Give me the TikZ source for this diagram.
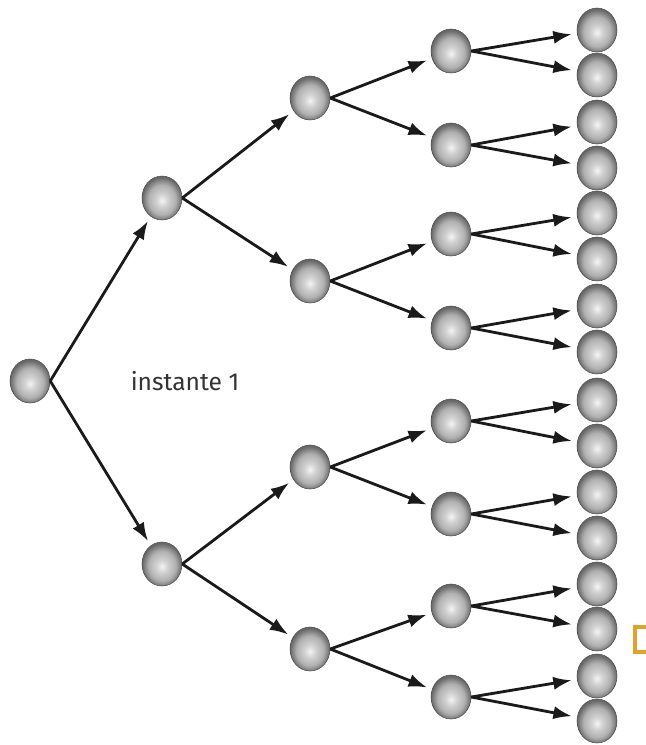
\documentclass[tikz,border=0pt]{standalone}
\usepackage{fontspec}
\newfontfamily\labelfont{Fira Sans}
\usepackage{tikz}
\usetikzlibrary{arrows.meta,shapes.geometric}

\definecolor{ballhi}{HTML}{F4F4F4}
\definecolor{ballmid}{HTML}{B0B0B0}
\definecolor{ballrim}{HTML}{686868}
\definecolor{arrowgray}{HTML}{1A1A1A}
\definecolor{textgray}{HTML}{333333}
\definecolor{markorange}{HTML}{E0A22A}

\pgfdeclareradialshading{sphere}{\pgfpoint{0bp}{-3bp}}{color(0bp)=(ballhi); color(7bp)=(ballmid!50!ballhi); color(17bp)=(ballmid); color(25bp)=(ballrim); color(50bp)=(ballrim)}

\tikzset{
  ball/.style={ellipse, minimum width=40*0.02cm, minimum height=44*0.02cm, inner sep=0pt, shading=sphere, draw=ballrim!70!black, line width=0.3pt},
  branch/.style={-{Latex[length=10.5pt,width=7.5pt]}, line width=1.6pt, arrowgray, shorten >=3pt}
}

\begin{document}
\begin{tikzpicture}[x=0.02cm,y=-0.02cm]
                \useasboundingbox (0,0) rectangle (646,745);

                % root and instant 1
                \node[ball] (r) at (30,381) {};
                \node[ball] (a1) at (162,198) {};
                \node[ball] (a2) at (162,564) {};

                % instant 2
                \node[ball] (b1) at (310,98) {};
                \node[ball] (b2) at (310,281) {};
                \node[ball] (b3) at (310,467) {};
                \node[ball] (b4) at (310,649) {};

                % instant 3
                \node[ball] (c1) at (451,51) {};
                \node[ball] (c2) at (451,145) {};
                \node[ball] (c3) at (451,234) {};
                \node[ball] (c4) at (451,328) {};
                \node[ball] (c5) at (451,421) {};
                \node[ball] (c6) at (451,514) {};
                \node[ball] (c7) at (451,606) {};
                \node[ball] (c8) at (451,697) {};

                % instant 4
                \node[ball] (d1) at (597,30) {};
                \node[ball] (d2) at (597,75) {};
                \node[ball] (d3) at (597,122) {};
                \node[ball] (d4) at (597,168) {};
                \node[ball] (d5) at (597,213) {};
                \node[ball] (d6) at (597,259) {};
                \node[ball] (d7) at (597,306) {};
                \node[ball] (d8) at (597,352) {};
                \node[ball] (d9) at (597,400) {};
                \node[ball] (d10) at (597,446) {};
                \node[ball] (d11) at (597,492) {};
                \node[ball] (d12) at (597,538) {};
                \node[ball] (d13) at (597,584) {};
                \node[ball] (d14) at (597,629) {};
                \node[ball] (d15) at (597,676) {};
                \node[ball] (d16) at (597,721) {};

                \node[textgray, font=\labelfont\fontsize{14pt}{16pt}\selectfont] (lbl) at (185,381) {instante 1};

                \draw[branch] (r.east) -- (a1);
                \draw[branch] (r.east) -- (a2);

                \draw[branch] (a1.east) -- (b1);
                \draw[branch] (a1.east) -- (b2);
                \draw[branch] (a2.east) -- (b3);
                \draw[branch] (a2.east) -- (b4);

                \draw[branch] (b1.east) -- (c1);
                \draw[branch] (b1.east) -- (c2);
                \draw[branch] (b2.east) -- (c3);
                \draw[branch] (b2.east) -- (c4);
                \draw[branch] (b3.east) -- (c5);
                \draw[branch] (b3.east) -- (c6);
                \draw[branch] (b4.east) -- (c7);
                \draw[branch] (b4.east) -- (c8);

                \draw[branch] (c1.east) -- (d1);
                \draw[branch] (c1.east) -- (d2);
                \draw[branch] (c2.east) -- (d3);
                \draw[branch] (c2.east) -- (d4);
                \draw[branch] (c3.east) -- (d5);
                \draw[branch] (c3.east) -- (d6);
                \draw[branch] (c4.east) -- (d7);
                \draw[branch] (c4.east) -- (d8);
                \draw[branch] (c5.east) -- (d9);
                \draw[branch] (c5.east) -- (d10);
                \draw[branch] (c6.east) -- (d11);
                \draw[branch] (c6.east) -- (d12);
                \draw[branch] (c7.east) -- (d13);
                \draw[branch] (c7.east) -- (d14);
                \draw[branch] (c8.east) -- (d15);
                \draw[branch] (c8.east) -- (d16);

                % cut-off mark at the right edge
                \draw[markorange, line width=2.2pt] (648,627) -- (635,627) -- (635,652) -- (648,652);
\end{tikzpicture}
\end{document}
